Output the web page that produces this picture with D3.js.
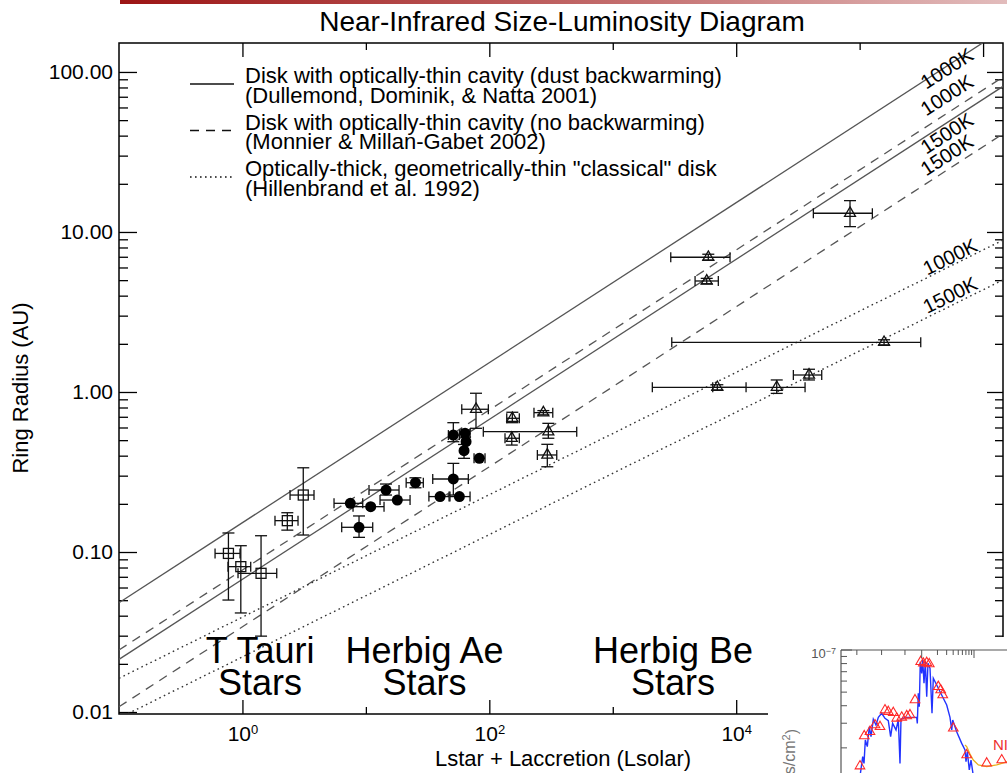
<!DOCTYPE html>
<html><head><meta charset="utf-8">
<script src="https://cdn.jsdelivr.net/npm/d3@7"></script>
<style>
body{margin:0;background:#fff}
svg{display:block}
text{font-family:"Liberation Sans",Arial,Helvetica,sans-serif}
</style>
</head><body>
<svg id="chart" width="1007" height="773"></svg>
<script>
// ---------------- DATA ----------------
const chartTitle = "Near-Infrared Size-Luminosity Diagram";
const xTitle = "Lstar + Laccretion (Lsolar)";
const yTitle = "Ring Radius (AU)";
const xMajorTicks = [1, 100, 1e4, 1e6];
const xMajorLabels = ["0", "2", "4", ""];
const xMinorTicks = [10, 1000, 1e5];
const yTickValues = [0.01, 0.1, 1, 10, 100];
const yTickLabels = ["0.01", "0.10", "1.00", "10.00", "100.00"];

// rows: [L, R, Lmin, Lmax, Rmin, Rmax]
const tTauri = [
  [0.77, 0.098, 0.60, 0.956, 0.0501, 0.1315],
  [0.97, 0.081, 0.764, 1.167, 0.0416, 0.1095],
  [1.415, 0.0736, 0.921, 1.896, 0.0298, 0.1264],
  [2.31, 0.157, 1.835, 2.82, 0.137, 0.176],
  [3.11, 0.227, 2.43, 3.80, 0.1277, 0.336]
];
const herbigAe = [
  [7.48, 0.2015, 5.52, 9.43, null, null],
  [8.80, 0.1427, 6.37, 11.36, 0.1235, 0.168],
  [10.94, 0.192, 7.87, 14.03, null, null],
  [14.56, 0.244, 10.6, 18.56, 0.227, 0.266],
  [17.98, 0.2113, 13.02, 22.8, null, null],
  [25.2, 0.271, 21.2, 29.2, 0.252, 0.291],
  [39.9, 0.222, 32.4, 47.2, null, null],
  [51.1, 0.286, 34.8, 67.6, 0.227, 0.358],
  [57.2, 0.222, 48.0, 69.8, null, null],
  [51.1, 0.538, 46.6, 57.2, 0.489, 0.643],
  [63.6, 0.552, 59.8, 69.8, 0.523, 0.579],
  [64.8, 0.489, null, null, null, null],
  [62.4, 0.43, null, null, 0.385, 0.47],
  [83, 0.385, 75.2, 92.3, null, null]
];
const herbigBe = [
  [78.0, 0.78, 59.8, 98.2, 0.593, 0.982],
  [153.6, 0.685, 138.4, 175, 0.643, 0.747],
  [152, 0.514, 134, 175, 0.466, 0.565],
  [274, 0.743, 230, 326.6, 0.72, 0.765],
  [300.7, 0.565, 89.4, 510.6, 0.514, 0.637],
  [295, 0.404, 245, 351.8, 0.341, 0.471],
  [83560, 13.09, 42170, 126800, 10.8, 15.7],
  [5943, 6.95, 2950, 8913, 6.68, 7.26],
  [5770, 4.94, 4643, 7164, 4.75, 5.13],
  [157700, 2.045, 3006, 312600, 1.97, 2.12],
  [38900, 1.277, 29040, 49300, 1.189, 1.387],
  [21300, 1.07, 6456, 36130, 0.98, 1.189],
  [7031, 1.07, 2092, 12020, 1.03, 1.11]
];

// model lines R = coef * L^exponent
const modelKind = ["solid", "solid", "dashed", "dashed", "dotted", "dotted"];
const modelCoef = [0.1525, 0.0675, 0.0772, 0.0341, 0.0392, 0.0221];
const modelExp  = [0.5, 0.5, 0.5, 0.5, 0.3824, 0.3824];
const modelTemp = ["1000K", "1500K", "1000K", "1500K", "1000K", "1500K"];
const modelLabelL = [5.08e5, 5.08e5, 5.08e5, 5.08e5, 5.4e5, 5.4e5];
const modelLabelR = [105.5, 41.4, 71.8, 30.3, 7.01, 4.04];

const legendKind = ["solid", "dashed", "dotted"];
const legendText = [
  ["Disk with optically-thin cavity (dust backwarming)", "(Dullemond, Dominik, & Natta 2001)"],
  ["Disk with optically-thin cavity (no backwarming)", "(Monnier & Millan-Gabet 2002)"],
  ["Optically-thick, geometrically-thin \"classical\" disk", "(Hillenbrand et al. 1992)"]
];

const groupNames = [["T Tauri", "Stars"], ["Herbig Ae", "Stars"], ["Herbig Be", "Stars"]];
const groupL = [1.39, 29.9, 3077];

// inset SED (log10 wavelength, log10 flux)
const insetPhot = [
  [-1.18, -7.829], [-1.098, -7.614], [-0.989, -7.584], [-0.893, -7.536], [-0.797, -7.548],
  [-0.702, -7.429], [-0.639, -7.441], [-0.543, -7.448], [-0.478, -7.488], [-0.382, -7.481],
  [-0.287, -7.471], [-0.224, -7.464], [-0.128, -7.357], [-0.019, -7.084], [0.031, -7.095],
  [0.096, -7.091], [0.145, -7.10], [0.317, -7.262], [0.363, -7.286], [0.402, -7.321],
  [0.604, -7.559], [0.86, -7.75], [1.243, -7.809], [1.53, -7.786]
];
const insetSpec = [
  [-1.171, -7.879], [-1.128, -7.762], [-1.103, -7.81], [-1.078, -7.643], [-1.04, -7.69],
  [-1.002, -7.548], [-0.969, -7.619], [-0.925, -7.495], [-0.874, -7.536], [-0.829, -7.481],
  [-0.765, -7.452], [-0.702, -7.488], [-0.639, -7.505], [-0.594, -7.619], [-0.556, -7.524],
  [-0.491, -7.571], [-0.447, -7.50], [-0.415, -7.81], [-0.396, -7.495], [-0.319, -7.481],
  [-0.224, -7.481], [-0.096, -7.481], [-0.084, -7.524], [-0.065, -7.309], [-0.046, -7.405],
  [-0.027, -7.084], [0.0, -7.167], [0.019, -7.067], [0.044, -7.238], [0.069, -7.084],
  [0.096, -7.334], [0.12, -7.095], [0.159, -7.131], [0.197, -7.452], [0.222, -7.202],
  [0.287, -7.25], [0.382, -7.321], [0.478, -7.393], [0.541, -7.481], [0.574, -7.571],
  [0.593, -7.50], [0.669, -7.584], [0.765, -7.667], [0.828, -7.714], [0.847, -7.798],
  [0.872, -7.726], [0.91, -7.857], [0.943, -7.786], [0.987, -7.90]
];
const insetModel = [
  [0.828, -7.679], [0.86, -7.69], [0.924, -7.743], [0.987, -7.786], [1.083, -7.821],
  [1.243, -7.833], [1.434, -7.821], [1.63, -7.798]
];
const insetTopMajor = [0, 1];
const insetTopMinor = [-1.24, -0.767, -0.32, 0.301, 0.477, 0.602, 0.699, 0.778, 0.845, 0.903, 0.954];
const insetLeftMinor = [-7.046, -7.097, -7.155, -7.222, -7.301, -7.398, -7.523, -7.699];

// ---------------- DRAW ----------------
const FONT = '"Liberation Sans",Arial,Helvetica,sans-serif';
const svg = d3.select("#chart");
const L0 = 119, R0 = 1003, T0 = 43, B0 = 714;
const x = d3.scaleLog().domain([0.1, 1.45e6]).range([L0, R0]);
const y = d3.scaleLog().domain([0.00972, 151.7]).range([B0, T0]);

const defs = svg.append("defs");
const grad = defs.append("linearGradient").attr("id", "topbar").attr("x1", "0").attr("x2", "1");
grad.append("stop").attr("offset", "0").attr("stop-color", "#9c1414");
grad.append("stop").attr("offset", "0.55").attr("stop-color", "#c26a6a");
grad.append("stop").attr("offset", "1").attr("stop-color", "#e2bcbc");
svg.append("rect").attr("x", 120).attr("y", 0).attr("width", 887).attr("height", 4).attr("fill", "url(#topbar)");

defs.append("clipPath").attr("id", "plotclip").append("rect")
  .attr("x", L0).attr("y", T0).attr("width", R0 - L0).attr("height", B0 - T0);

// title
svg.append("text").attr("x", 562).attr("y", 31).attr("text-anchor", "middle")
  .attr("font-size", 28).attr("fill", "#000").text(chartTitle);

// y minor ticks values
const yMinor = [];
for (let e = -3; e <= 2; e++) for (let m = 2; m <= 9; m++) {
  const v = m * Math.pow(10, e);
  if (v > y.domain()[0] && v < y.domain()[1]) yMinor.push(v);
}

function styleAxis(g) {
  g.select(".domain").remove();
  g.selectAll(".tick line").attr("stroke", "#000").attr("stroke-width", 1.3);
  g.attr("font-family", FONT).attr("fill", null);
  g.selectAll(".tick text").attr("fill", "#000");
}

// left
const gL = svg.append("g").attr("transform", `translate(${L0},0)`)
  .call(d3.axisLeft(y).tickValues(yTickValues).tickFormat((d, i) => yTickLabels[i])
    .tickSizeInner(-18).tickSizeOuter(0).tickPadding(6));
styleAxis(gL); gL.attr("font-size", 21);
const gLm = svg.append("g").attr("transform", `translate(${L0},0)`)
  .call(d3.axisLeft(y).tickValues(yMinor).tickFormat("").tickSizeInner(-9).tickSizeOuter(0));
styleAxis(gLm);
// right
const gR = svg.append("g").attr("transform", `translate(${R0},0)`)
  .call(d3.axisRight(y).tickValues(yTickValues).tickFormat("").tickSizeInner(-16).tickSizeOuter(0));
styleAxis(gR);
const gRm = svg.append("g").attr("transform", `translate(${R0},0)`)
  .call(d3.axisRight(y).tickValues(yMinor).tickFormat("").tickSizeInner(-8).tickSizeOuter(0));
styleAxis(gRm);
// bottom
const gB = svg.append("g").attr("transform", `translate(0,${B0})`)
  .call(d3.axisBottom(x).tickValues(xMajorTicks).tickFormat("").tickSizeInner(-14).tickSizeOuter(0).tickPadding(12));
styleAxis(gB); gB.attr("font-size", 21);
gB.selectAll(".tick text").each(function (d, i) {
  if (!xMajorLabels[i]) return;
  const t = d3.select(this);
  t.append("tspan").text("10");
  t.append("tspan").attr("dy", "-0.55em").attr("font-size", 13).text(xMajorLabels[i]);
});
const gBm = svg.append("g").attr("transform", `translate(0,${B0})`)
  .call(d3.axisBottom(x).tickValues(xMinorTicks).tickFormat("").tickSizeInner(-7).tickSizeOuter(0));
styleAxis(gBm);
// top
const gT = svg.append("g").attr("transform", `translate(0,${T0})`)
  .call(d3.axisTop(x).tickValues(xMajorTicks).tickFormat("").tickSizeInner(-14).tickSizeOuter(0));
styleAxis(gT);
const gTm = svg.append("g").attr("transform", `translate(0,${T0})`)
  .call(d3.axisTop(x).tickValues(xMinorTicks).tickFormat("").tickSizeInner(-7).tickSizeOuter(0));
styleAxis(gTm);

// frame
svg.append("rect").attr("x", L0).attr("y", T0).attr("width", R0 - L0).attr("height", B0 - T0)
  .attr("fill", "none").attr("stroke", "#000").attr("stroke-width", 1.5);

// model lines
const dashOf = k => k === "dashed" ? "9,7" : (k === "dotted" ? "1.6,3.4" : null);
const lineGen = d3.line().x(d => x(d[0])).y(d => y(d[1]));
const gModel = svg.append("g").attr("clip-path", "url(#plotclip)");
modelCoef.forEach((c, i) => {
  const pts = x.domain().map(L => [L, c * Math.pow(L, modelExp[i])]);
  gModel.append("path").attr("d", lineGen(pts)).attr("fill", "none")
    .attr("stroke", modelKind[i] === "dotted" ? "#333" : "#555")
    .attr("stroke-width", modelKind[i] === "dotted" ? 1.4 : 1.3)
    .attr("stroke-dasharray", dashOf(modelKind[i]));
});
// model labels
modelTemp.forEach((t, i) => {
  const L = modelLabelL[i], R = modelLabelR[i];
  const dx = x(L * 10) - x(L);
  const dy = y(modelCoef[i] * Math.pow(L * 10, modelExp[i])) - y(modelCoef[i] * Math.pow(L, modelExp[i]));
  const ang = Math.atan2(dy, dx) * 180 / Math.PI;
  svg.append("text").attr("transform", `translate(${x(L)},${y(R)}) rotate(${ang})`)
    .attr("text-anchor", "middle").attr("dy", "0.35em").attr("font-size", 20).attr("fill", "#000").text(t);
});

// error bars + markers
const gData = svg.append("g");
function drawErrors(rows) {
  rows.forEach(r => {
    const [L, R, Llo, Lhi, Rlo, Rhi] = r;
    const cx = x(L), cy = y(R);
    if (Llo != null) {
      gData.append("line").attr("x1", x(Llo)).attr("x2", x(Lhi)).attr("y1", cy).attr("y2", cy);
      [Llo, Lhi].forEach(v => gData.append("line").attr("x1", x(v)).attr("x2", x(v)).attr("y1", cy - 5).attr("y2", cy + 5));
    }
    if (Rlo != null) {
      gData.append("line").attr("x1", cx).attr("x2", cx).attr("y1", y(Rlo)).attr("y2", y(Rhi));
      [Rlo, Rhi].forEach(v => gData.append("line").attr("x1", cx - 6).attr("x2", cx + 6).attr("y1", y(v)).attr("y2", y(v)));
    }
  });
}
drawErrors(tTauri); drawErrors(herbigAe); drawErrors(herbigBe);
gData.selectAll("line").attr("stroke", "#111").attr("stroke-width", 1.3);

gData.selectAll("rect.sq").data(tTauri).join("rect").attr("class", "sq")
  .attr("x", d => x(d[0]) - 5).attr("y", d => y(d[1]) - 5).attr("width", 10).attr("height", 10)
  .attr("fill", "none").attr("stroke", "#111").attr("stroke-width", 1.3);
gData.selectAll("circle.ae").data(herbigAe).join("circle").attr("class", "ae")
  .attr("cx", d => x(d[0])).attr("cy", d => y(d[1])).attr("r", 5.5).attr("fill", "#000");
const tri = d3.symbol().type(d3.symbolTriangle).size(52);
gData.selectAll("path.be").data(herbigBe).join("path").attr("class", "be")
  .attr("d", tri).attr("transform", d => `translate(${x(d[0])},${y(d[1])})`)
  .attr("fill", "none").attr("stroke", "#111").attr("stroke-width", 1.3);

// legend
const gLeg = svg.append("g");
legendKind.forEach((k, i) => {
  const by = 84 + i * 46.5;
  gLeg.append("line").attr("x1", 190).attr("x2", 234).attr("y1", by).attr("y2", by)
    .attr("stroke", "#111").attr("stroke-width", 1.3).attr("stroke-dasharray", dashOf(k));
  legendText[i].forEach((s, j) => {
    gLeg.append("text").attr("x", 245).attr("y", by - 0.7 + j * 19.5).attr("font-size", 22)
      .attr("fill", "#000").text(s);
  });
});

// group labels
groupNames.forEach((g, i) => {
  g.forEach((s, j) => {
    svg.append("text").attr("x", x(groupL[i])).attr("y", 663 + j * 32).attr("text-anchor", "middle")
      .attr("font-size", 36).attr("fill", "#000").text(s);
  });
});

// axis titles
svg.append("text").attr("transform", "translate(28,388) rotate(-90)").attr("text-anchor", "middle")
  .attr("font-size", 22).attr("fill", "#000").text(yTitle);
svg.append("text").attr("x", 563).attr("y", 766).attr("text-anchor", "middle")
  .attr("font-size", 22).attr("fill", "#000").text(xTitle);

// ---------------- inset (partially visible SED) ----------------
const gIn = svg.append("g");
gIn.append("rect").attr("x", 768).attr("y", 637).attr("width", 239).attr("height", 136).attr("fill", "#fff");
const ix = d3.scaleLinear().domain([0, 1]).range([921.7, 974]);
const iy = d3.scaleLinear().domain([-8, -7]).range([790, 650]);
defs.append("clipPath").attr("id", "insetclip").append("rect")
  .attr("x", 841).attr("y", 640).attr("width", 166).attr("height", 133);
const gInD = gIn.append("g").attr("clip-path", "url(#insetclip)");
const iLine = d3.line().x(d => ix(d[0])).y(d => iy(d[1]));
gInD.append("path").attr("d", iLine(insetSpec)).attr("fill", "none").attr("stroke", "#2233ff").attr("stroke-width", 1.4);
gInD.append("path").attr("d", iLine(insetModel)).attr("fill", "none").attr("stroke", "#e8b01c").attr("stroke-width", 1.3);
const itri = d3.symbol().type(d3.symbolTriangle).size(40);
gInD.selectAll("path.ph").data(insetPhot).join("path").attr("class", "ph").attr("d", itri)
  .attr("transform", d => `translate(${ix(d[0])},${iy(d[1])})`)
  .attr("fill", "none").attr("stroke", "#ff2a2a").attr("stroke-width", 1.1);
gIn.append("line").attr("x1", 841).attr("x2", 841).attr("y1", 650).attr("y2", 773).attr("stroke", "#555").attr("stroke-width", 1.2);
gIn.append("line").attr("x1", 841).attr("x2", 1007).attr("y1", 650).attr("y2", 650).attr("stroke", "#555").attr("stroke-width", 1.2);
insetTopMajor.forEach(v => gIn.append("line").attr("x1", ix(v)).attr("x2", ix(v)).attr("y1", 650).attr("y2", 658).attr("stroke", "#555"));
insetTopMinor.forEach(v => gIn.append("line").attr("x1", ix(v)).attr("x2", ix(v)).attr("y1", 650).attr("y2", 655).attr("stroke", "#555"));
gIn.append("line").attr("x1", 841).attr("x2", 852).attr("y1", iy(-7)).attr("y2", iy(-7)).attr("stroke", "#555");
insetLeftMinor.forEach(v => gIn.append("line").attr("x1", 841).attr("x2", 847).attr("y1", iy(v)).attr("y2", iy(v)).attr("stroke", "#555"));
const lab = gIn.append("text").attr("x", 836).attr("y", 658).attr("text-anchor", "end").attr("font-size", 13).attr("fill", "#555");
lab.append("tspan").text("10");
lab.append("tspan").attr("dy", "-0.5em").attr("font-size", 9).text("−7");
const yl = gIn.append("text").attr("transform", "translate(795,729) rotate(-90)").attr("text-anchor", "end")
  .attr("font-size", 16).attr("fill", "#777");
yl.append("tspan").text("F (erg/s/cm");
yl.append("tspan").attr("dy", "-0.45em").attr("font-size", 11).text("2");
yl.append("tspan").attr("dy", "0.45em").text(")");
gIn.append("text").attr("x", 993).attr("y", 750).attr("font-size", 15).attr("fill", "#ee3030").text("NIR");
</script>
</body></html>
